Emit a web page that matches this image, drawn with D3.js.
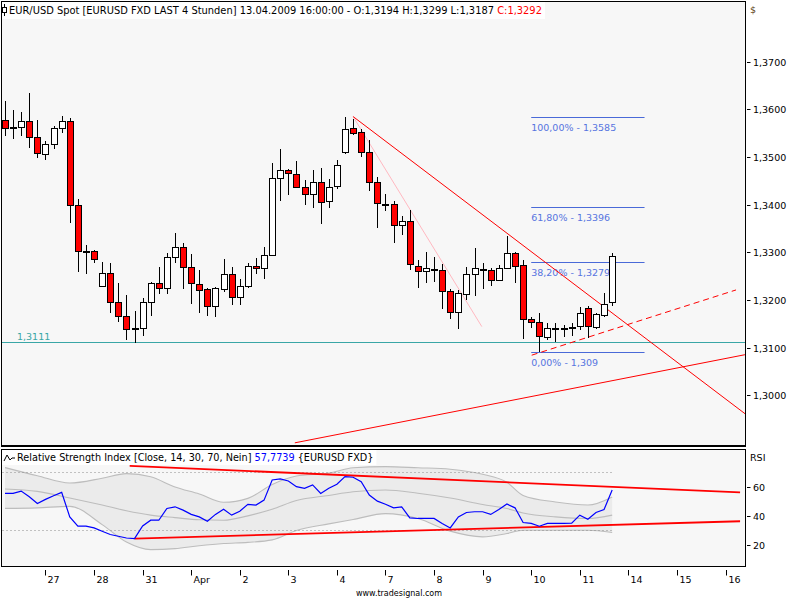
<!DOCTYPE html>
<html>
<head>
<meta charset="utf-8">
<script src="https://cdn.jsdelivr.net/npm/d3@7"></script>
<style>
  body { margin: 0; background: #fff; }
  text { font-family: "DejaVu Sans", sans-serif; font-size: 9.5px; fill: #000; }
</style>
</head>
<body>
<svg id="chart" width="800" height="600"></svg>
<script>
// EUR/USD 4h candles (bar 0 = first visible bar)
var opens  = [1.3577,1.3563,1.3563,1.3575,1.3542,1.3506,1.3527,1.3559,1.3575,1.3399,
              1.3302,1.3302,1.3228,1.3256,1.3195,1.3165,1.3138,1.3139,1.3195,1.3235,
              1.3223,1.3289,1.3311,1.3269,1.3233,1.3222,1.3187,1.3222,1.3254,1.3206,
              1.3229,1.3271,1.3267,1.3294,1.3454,1.3472,1.3464,1.3437,1.3422,1.3447,
              1.3407,1.3439,1.3509,1.3559,1.3552,1.3510,1.3447,1.3400,1.3401,1.3356,
              1.3365,1.3271,1.3260,1.3263,1.3262,1.3218,1.3174,1.3212,1.3254,1.3263,
              1.3262,1.3241,1.3267,1.3298,1.3272,1.3159,1.3153,1.3122,1.3141,1.3141,
              1.3139,1.3144,1.3183,1.3143,1.3167,1.3194];
var highs  = [1.3617,1.3599,1.3594,1.3634,1.3578,1.3534,1.3566,1.3587,1.3582,1.3412,
              1.3316,1.3305,1.3279,1.3277,1.3236,1.3211,1.3177,1.3204,1.3237,1.3269,
              1.3299,1.3340,1.3319,1.3296,1.3263,1.3225,1.3228,1.3286,1.3269,1.3244,
              1.3278,1.3288,1.3311,1.3487,1.3517,1.3475,1.3491,1.3451,1.3472,1.3477,
              1.3454,1.3494,1.3585,1.3580,1.3559,1.3536,1.3459,1.3422,1.3408,1.3376,
              1.3389,1.3284,1.3300,1.3290,1.3276,1.3223,1.3221,1.3269,1.3309,1.3277,
              1.3267,1.3273,1.3334,1.3301,1.3283,1.3164,1.3172,1.3151,1.3151,1.3148,
              1.3151,1.3186,1.3188,1.3172,1.3215,1.3299];
var lows   = [1.3545,1.3538,1.3545,1.3519,1.3499,1.3493,1.3517,1.3551,1.3362,1.3259,
              1.3254,1.3278,1.3227,1.3173,1.3154,1.3115,1.3109,1.3124,1.3167,1.3213,
              1.3213,1.3277,1.3224,1.3192,1.3173,1.3167,1.3165,1.3217,1.3190,1.3190,
              1.3226,1.3255,1.3245,1.3293,1.3407,1.3421,1.3435,1.3400,1.3394,1.3359,
              1.3392,1.3433,1.3507,1.3547,1.3501,1.3429,1.3352,1.3387,1.3320,1.3337,
              1.3262,1.3226,1.3236,1.3238,1.3181,1.3160,1.3140,1.3200,1.3209,1.3222,
              1.3230,1.3239,1.3266,1.3235,1.3118,1.3142,1.3090,1.3116,1.3112,1.3123,
              1.3124,1.3136,1.3121,1.3140,1.3165,1.3187];
var closes = [1.3561,1.3562,1.3575,1.3542,1.3508,1.3527,1.3559,1.3575,1.3398,1.3301,
              1.3301,1.3284,1.3256,1.3195,1.3165,1.3137,1.3139,1.3195,1.3235,1.3225,
              1.3289,1.3311,1.3269,1.3235,1.3220,1.3187,1.3225,1.3254,1.3206,1.3229,
              1.3271,1.3265,1.3294,1.3454,1.3472,1.3466,1.3437,1.3422,1.3447,1.3405,
              1.3437,1.3483,1.3557,1.3550,1.3509,1.3447,1.3403,1.3399,1.3356,1.3365,
              1.3275,1.3260,1.3265,1.3263,1.3217,1.3174,1.3213,1.3254,1.3265,1.3263,
              1.3241,1.3267,1.3298,1.3271,1.3159,1.3153,1.3123,1.3141,1.3141,1.3141,
              1.3143,1.3172,1.3144,1.3169,1.3191,1.3292];

// RSI(14) per bar
var rsi = [55.4,55.4,57.0,53.1,48.5,51.3,53.8,56.1,39.3,32.9,
           32.9,31.7,29.4,27.2,26.0,24.8,24.4,33.1,37.0,37.0,
           45.1,46.2,43.9,41.0,39.3,36.3,41.0,44.6,40.5,43.2,
           47.9,47.4,50.8,64.6,65.3,63.9,60.0,58.9,61.2,55.4,
           58.9,61.7,66.9,66.5,63.4,54.3,50.1,48.0,45.5,46.2,
           38.6,38.2,38.2,38.2,34.8,31.7,39.3,42.3,42.8,42.8,
           41.0,44.4,48.1,45.5,35.4,34.8,32.9,34.8,34.8,34.8,
           35.0,40.5,37.7,42.3,44.4,57.7739];

// band around the RSI, read at these bars
var bandBars  = [0,4,8,12,15,18,21,24,27,30,33,36,40,43,47,51,55,59,62,64,68,72,75];
var bandUpper = [73.1,67.5,62.5,65.8,69.0,66.8,59.8,55.0,49.3,52.0,61.5,67.3,69.3,73.0,73.8,73.0,72.0,68.5,63.0,54.0,49.5,47.4,53.0];
var bandMid   = [58.4,56.8,52.3,47.4,43.5,40.5,38.8,37.3,37.0,40.0,44.5,50.5,54.0,56.5,57.7,55.5,52.2,47.8,45.0,42.0,39.3,38.2,40.5];
var bandLower = [45.1,45.5,46.5,34.0,22.0,16.8,17.5,19.5,21.0,21.8,23.5,30.0,34.5,37.5,41.5,38.2,29.5,25.6,27.9,30.1,30.1,30.1,28.6];

var priceTicks = [1.30,1.31,1.32,1.33,1.34,1.35,1.36,1.37];
var rsiTicks = [20,40,60];
var dayLabels = ["27","28","31","Apr","2","3","4","7","8","9","10","11","14","15","16"];
var dayBars = [5,11,17,23,29,35,41,47,53,59,65,71,77,83,89];

var fibLevels = [1.3585,1.3396,1.3279,1.309];
var fibLabels = ["100,00% - 1,3585","61,80% - 1,3396","38,20% - 1,3279","0,00% - 1,309"];
var fibFrom = 65, fibTo = 79;
var supportLevel = 1.3111;

// drawn lines as [bar, value] pairs
var trendDown  = [[43,1.3585],[91.5,1.2960]];
var trendSteep = [[43,1.3585],[58.9,1.3144]];
var trendUp    = [[35.8,1.2900],[91.4,1.3085]];
var trendDash  = [[65.06,1.3084],[90.3,1.3221]];
var rsiTop     = [[15.4,74.3],[90.8,56.1]];
var rsiBottom  = [[16,24.4],[90.8,36.3]];

var fmt = d3.formatLocale({decimal: ",", thousands: ".", grouping: [3], currency: ["", ""]}).format(".4f");

var svg = d3.select("#chart");
var L = 1.5, R = 745.5;
var mainT = 1.5, mainB = 446.5;
var rsiT = 449.5, rsiB = 566.5;

var x = d3.scaleLinear().domain([0, 89]).range([5, 725.5]);
var y = d3.scaleLinear().domain([1.30, 1.37]).range([395.2, 61.8]);
var yr = d3.scaleLinear().domain([20, 60]).range([545, 486.7]);

// panels
svg.append("rect").attr("x", L).attr("y", mainT).attr("width", R - L).attr("height", mainB - mainT)
  .attr("fill", "#f7f7f7").attr("stroke", "#000");
svg.append("rect").attr("x", L).attr("y", rsiT).attr("width", R - L).attr("height", rsiB - rsiT)
  .attr("fill", "#f7f7f7").attr("stroke", "#000");
svg.append("line").attr("x1", L).attr("x2", R).attr("y1", mainB - 1).attr("y2", mainB - 1).attr("stroke", "#000");

var defs = svg.append("defs");
defs.append("clipPath").attr("id", "clipMain").append("rect")
  .attr("x", L + 0.5).attr("y", mainT + 0.5).attr("width", R - L - 1).attr("height", mainB - mainT - 2);
defs.append("clipPath").attr("id", "clipRsi").append("rect")
  .attr("x", L + 0.5).attr("y", rsiT + 0.5).attr("width", R - L - 1).attr("height", rsiB - rsiT - 1);

var main = svg.append("g").attr("clip-path", "url(#clipMain)");
var lower = svg.append("g").attr("clip-path", "url(#clipRsi)");

var pline = d3.line().x(d => x(d[0])).y(d => y(d[1]));
var rline = d3.line().x(d => x(d[0])).y(d => yr(d[1]));

// support line
main.append("line").attr("x1", L).attr("x2", R)
  .attr("y1", Math.round(y(supportLevel)) + 0.5).attr("y2", Math.round(y(supportLevel)) + 0.5)
  .attr("stroke", "#3aa6a6");
main.append("text").attr("x", 17).attr("y", Math.round(y(supportLevel)) - 2)
  .style("fill", "#3aa6a6").text(fmt(supportLevel));

// fibonacci
fibLevels.forEach(function(v, k) {
  var yy = Math.round(y(v)) + 0.5;
  main.append("line").attr("x1", x(fibFrom)).attr("x2", x(fibTo)).attr("y1", yy).attr("y2", yy)
    .attr("stroke", "#4a6ad8").attr("stroke-width", 1.2);
  main.append("text").attr("x", x(fibFrom)).attr("y", yy + 13)
    .style("fill", "#5674e0").text(fibLabels[k]);
});

// trend lines
main.append("path").attr("d", pline(trendSteep)).attr("fill", "none").attr("stroke", "#ffb8c0");
main.append("path").attr("d", pline(trendDown)).attr("fill", "none").attr("stroke", "#ff0000");
main.append("path").attr("d", pline(trendUp)).attr("fill", "none").attr("stroke", "#ff0000");
main.append("path").attr("d", pline(trendDash)).attr("fill", "none").attr("stroke", "#ff0000")
  .attr("stroke-dasharray", "6,4");

// candles
var bars = main.append("g").attr("shape-rendering", "crispEdges");
opens.forEach(function(o, i) {
  var cx = Math.round(x(i));
  var c = closes[i];
  bars.append("line").attr("x1", cx + 0.5).attr("x2", cx + 0.5)
    .attr("y1", y(highs[i])).attr("y2", y(lows[i])).attr("stroke", "#000");
  var top = Math.min(y(o), y(c));
  var h = Math.max(1, Math.abs(y(o) - y(c)));
  bars.append("rect").attr("x", cx - 2.5).attr("y", top).attr("width", 6).attr("height", h)
    .attr("fill", c >= o ? "#fff" : "#ff0000").attr("stroke", "#000");
});

// header of price panel
var head = svg.append("g");
var headBg = head.append("rect").attr("x", L + 0.5).attr("y", 2).attr("height", 17).attr("fill", "#fff");
head.append("line").attr("x1", 4.5).attr("x2", 4.5).attr("y1", 4).attr("y2", 16).attr("stroke", "#000");
head.append("rect").attr("x", 2.5).attr("y", 7.5).attr("width", 4).attr("height", 5).attr("fill", "#fff").attr("stroke", "#000");
var ht = head.append("text").attr("x", 9).attr("y", 14).style("font-size", "9.9px");
ht.append("tspan").text("EUR/USD Spot [EURUSD FXD LAST 4 Stunden] 13.04.2009 16:00:00 - O:" + fmt(opens[75]) +
  " H:" + fmt(highs[75]) + " L:" + fmt(lows[75]) + " ");
ht.append("tspan").style("fill", "#ff0000").text("C:" + fmt(closes[75]));
headBg.attr("width", ht.node().getComputedTextLength() + 10);

// right price axis
var ax = svg.append("g");
priceTicks.forEach(function(v) {
  var yy = Math.round(y(v)) + 0.5;
  ax.append("line").attr("x1", R + 1.5).attr("x2", R + 5).attr("y1", yy).attr("y2", yy).attr("stroke", "#000");
  ax.append("text").attr("x", R + 7.5).attr("y", yy + 3.5).text(fmt(v));
});
ax.append("text").attr("x", 750).attr("y", 13).style("fill", "#5a3a10").text("$");

// RSI panel
var area = d3.area().x((d, k) => x(bandBars[k])).y0((d, k) => yr(bandLower[k])).y1(d => yr(d))
  .curve(d3.curveMonotoneX);
lower.append("path").datum(bandUpper).attr("d", area).attr("fill", "#ebebeb");
[bandUpper, bandMid, bandLower].forEach(function(s) {
  lower.append("path").datum(s)
    .attr("d", d3.line().x((d, k) => x(bandBars[k])).y(d => yr(d)).curve(d3.curveMonotoneX))
    .attr("fill", "none").attr("stroke", "#bdbdbd").attr("stroke-width", 1.1);
});
[30, 70].forEach(function(v) {
  var yy = Math.round(yr(v)) + 0.5;
  lower.append("line").attr("x1", L + 1).attr("x2", x(75)).attr("y1", yy).attr("y2", yy)
    .attr("stroke", "#8a8a8a").attr("stroke-dasharray", "1,3");
});
lower.append("path").attr("d", rline(rsiTop)).attr("fill", "none").attr("stroke", "#ff0000").attr("stroke-width", 1.8);
lower.append("path").attr("d", rline(rsiBottom)).attr("fill", "none").attr("stroke", "#ff0000").attr("stroke-width", 1.8);
lower.append("path").datum(rsi).attr("d", d3.line().x((d, i) => x(i)).y(d => yr(d)))
  .attr("fill", "none").attr("stroke", "#0000ff").attr("stroke-width", 1.2);

var rh = svg.append("g");
var rhBg = rh.append("rect").attr("x", L + 0.5).attr("y", rsiT + 0.5).attr("height", 15).attr("fill", "#fff");
rh.append("path").attr("d", "M4,461 L7,455 L10,460 L12,458 L15,458").attr("fill", "none").attr("stroke", "#000");
var rt = rh.append("text").attr("x", 17).attr("y", 461).style("font-size", "9.7px");
rt.append("tspan").text("Relative Strength Index [Close, 14, 30, 70, Nein] ");
rt.append("tspan").style("fill", "#0000ff").text(d3.format(".4f")(rsi[75]).replace(".", ","));
rt.append("tspan").text(" {EURUSD FXD}");
rhBg.attr("width", rt.node().getComputedTextLength() + 18);

rsiTicks.forEach(function(v) {
  var yy = Math.round(yr(v)) + 0.5;
  svg.append("line").attr("x1", R + 1.5).attr("x2", R + 5).attr("y1", yy).attr("y2", yy).attr("stroke", "#000");
  svg.append("text").attr("x", R + 7.5).attr("y", yy + 3.5).text(v);
});
svg.append("text").attr("x", 750).attr("y", 461).text("RSI");

// date axis
dayBars.forEach(function(b, k) {
  var xx = Math.round(x(b)) + 0.5;
  svg.append("line").attr("x1", xx).attr("x2", xx).attr("y1", rsiB + 3.5).attr("y2", rsiB + 9).attr("stroke", "#000");
  svg.append("text").attr("x", xx + 2).attr("y", 583).text(dayLabels[k]);
});

svg.append("text").attr("x", 356).attr("y", 596).style("font-size", "8px").text("www.tradesignal.com");
</script>
</body>
</html>
